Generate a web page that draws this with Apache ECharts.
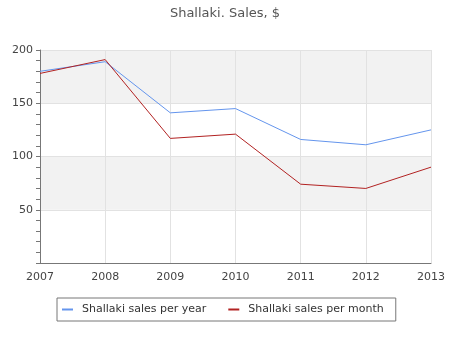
<!DOCTYPE html>
<html><head><meta charset="utf-8">
<script src="https://cdn.jsdelivr.net/npm/echarts@6/dist/echarts.min.js"></script>
<style>html,body{margin:0;padding:0;background:#fff}#c{width:450px;height:350px}</style>
</head><body><div id="c"></div>
<script>
var years = ['2007','2008','2009','2010','2011','2012','2013'];
var salesPerYear = [180, 189, 141, 145, 116, 111, 125];
var salesPerMonth = [178, 191, 117, 121, 74, 70, 90];
var seriesNames = ['Shallaki sales per year', 'Shallaki sales per month'];
var titleText = 'Shallaki. Sales, $';

var chart = echarts.init(document.getElementById('c'));
chart.setOption({
  animation: false,
  title: {text: titleText, left: 'center', top: 2,
    textStyle: {fontFamily: 'DejaVu Sans', fontSize: 13, fontWeight: 'normal', color: '#555'}},
  grid: {left: 40, right: 19, top: 50, bottom: 87},
  legend: {
    left: 57, top: 298, width: 337, height: 23,
    padding: [6, 12, 6, 5],
    borderColor: '#777', borderWidth: 1,
    itemWidth: 11, itemHeight: 2, itemGap: 22, icon: 'rect',
    textStyle: {fontFamily: 'DejaVu Sans', fontSize: 11, color: '#333', padding: [0,0,0,4]},
    data: seriesNames
  },
  xAxis: {
    type: 'category', data: years, boundaryGap: false,
    axisLine: {lineStyle: {color: '#777'}},
    axisTick: {show: false},
    axisLabel: {fontFamily: 'DejaVu Sans', fontSize: 11, color: '#444', margin: 9},
    splitLine: {show: true, lineStyle: {color: '#e2e2e2'}}
  },
  yAxis: {
    type: 'value', min: 0, max: 200, interval: 50,
    axisLine: {show: true, lineStyle: {color: '#777'}},
    axisTick: {show: true, length: 4, lineStyle: {color: '#777'}},
    minorTick: {show: true, splitNumber: 5, length: 4, lineStyle: {color: '#777'}},
    axisLabel: {fontFamily: 'DejaVu Sans', fontSize: 11, color: '#444', margin: 7,
      formatter: function(v){ return v === 0 ? '' : v; }},
    splitLine: {show: true, lineStyle: {color: '#e2e2e2'}},
    splitArea: {show: true, areaStyle: {color: ['#ffffff', '#f2f2f2']}}
  },
  series: [
    {name: seriesNames[0], type: 'line', data: salesPerYear, showSymbol: false,
      lineStyle: {width: 1, color: '#6495ed'}, itemStyle: {color: '#6495ed'}},
    {name: seriesNames[1], type: 'line', data: salesPerMonth, showSymbol: false,
      lineStyle: {width: 1, color: '#b22222'}, itemStyle: {color: '#b22222'}}
  ]
});
</script></body></html>
